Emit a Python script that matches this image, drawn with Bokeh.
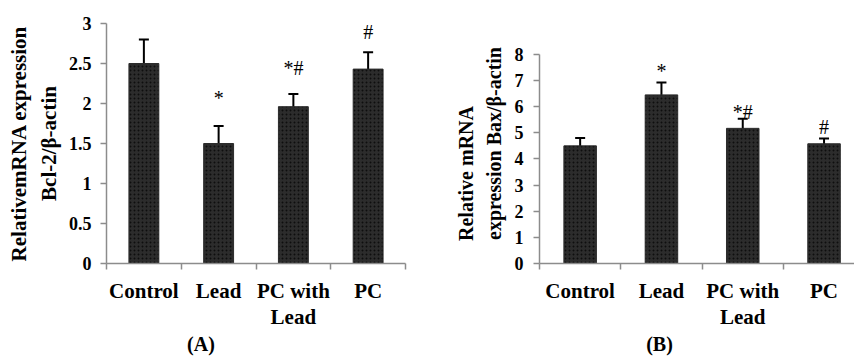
from bokeh.plotting import figure
from bokeh.models import (Range1d, FixedTicker, NumeralTickFormatter, Whisker,
                          TeeHead, ColumnDataSource)
from bokeh.layouts import row
from bokeh.embed import file_html
from bokeh.resources import INLINE
from bokeh.core.properties import value

# ---------------- data ----------------
categories = ["Control", "Lead", "PC with\nLead", "PC"]
positions = [1, 2, 3, 4]

bcl2_mean = [2.50, 1.50, 1.96, 2.43]
bcl2_err = [0.30, 0.22, 0.16, 0.21]
bcl2_marks = ["", "*", "*#", "#"]
bcl2_mark_y = [2.80, 2.07, 2.44, 2.90]
bcl2_yticks = [0, 0.5, 1, 1.5, 2, 2.5, 3]

bax_mean = [4.50, 6.45, 5.17, 4.58]
bax_err = [0.30, 0.47, 0.37, 0.20]
bax_marks = ["", "*", "*#", "#"]
bax_mark_y = [4.80, 7.36, 5.78, 5.22]
bax_yticks = [0, 1, 2, 3, 4, 5, 6, 7, 8]

FONT = "Liberation Serif"
AXIS_COLOR = "#8c8c8c"
NBSP = "\u00a0"


def panel(mean, err, marks, mark_y, yticks, y_top, y_end, x_end, width, border,
          ylabel, ylabel_size, ylabel_standoff, tick_standoff, tag):
    left, right, top, bottom = border
    p = figure(width=width, height=358, output_backend="svg", toolbar_location=None,
               x_range=Range1d(0.5, x_end), y_range=Range1d(0, y_end),
               min_border_left=left, min_border_right=right,
               min_border_top=top, min_border_bottom=bottom)
    p.outline_line_color = None
    p.grid.visible = False
    p.background_fill_color = "white"

    upper = [m + e for m, e in zip(mean, err)]
    lower = [m - e for m, e in zip(mean, err)]
    src = ColumnDataSource(dict(x=positions, top=mean, upper=upper, lower=lower,
                                marks=marks, mark_y=mark_y))
    p.vbar(x="x", top="top", width=0.4, source=src, fill_color="#2c2c2c",
           line_color="#2c2c2c", hatch_pattern="dot", hatch_color="#0e0e0e",
           hatch_scale=4, hatch_weight=1.2)
    p.add_layout(Whisker(source=src, base="x", upper="upper", lower="lower",
                         line_color="black", line_width=2,
                         upper_head=TeeHead(size=10, line_color="black", line_width=2),
                         lower_head=TeeHead(size=10, line_color="black", line_width=2)))
    p.text(x="x", y="mark_y", text="marks", source=src, text_align="center",
           text_baseline="alphabetic", text_font=value(FONT),
           text_font_size="20px", text_color="black")

    # x axis: labels at category centres, ticks at category boundaries
    xa = p.xaxis[0]
    xa.ticker = FixedTicker(ticks=positions,
                            minor_ticks=[0.5, 1.5, 2.5, 3.5, 4.5])
    xa.major_label_overrides = {pos: c for pos, c in zip(positions, categories)}
    xa.major_tick_out = 0
    xa.major_tick_in = 0
    xa.minor_tick_out = 6
    xa.minor_tick_in = 0
    xa.minor_tick_line_color = AXIS_COLOR
    xa.minor_tick_line_width = 1.5
    xa.axis_line_color = AXIS_COLOR
    xa.axis_line_width = 1.5
    xa.major_label_text_font = FONT
    xa.major_label_text_font_style = "bold"
    xa.major_label_text_font_size = "21px"
    xa.major_label_text_line_height = 1.12
    xa.major_label_text_color = "black"
    xa.major_label_standoff = 9
    xa.axis_label = tag
    xa.axis_label_text_font = FONT
    xa.axis_label_text_font_style = "bold"
    xa.axis_label_text_font_size = "20px"
    xa.axis_label_text_color = "black"
    xa.axis_label_standoff = 1

    ya = p.yaxis[0]
    ya.ticker = FixedTicker(ticks=yticks, minor_ticks=[])
    ya.formatter = NumeralTickFormatter(format="0.[0]")
    ya.bounds = (0, y_top)
    ya.major_tick_out = 6
    ya.major_tick_in = 0
    ya.major_tick_line_color = AXIS_COLOR
    ya.major_tick_line_width = 1.5
    ya.minor_tick_line_color = None
    ya.axis_line_color = AXIS_COLOR
    ya.axis_line_width = 1.5
    ya.major_label_text_font = FONT
    ya.major_label_text_font_style = "bold"
    ya.major_label_text_font_size = "18px"
    ya.major_label_text_color = "black"
    ya.major_label_standoff = tick_standoff

    ya.axis_label = "\n".join(ylabel)
    ya.axis_label_text_font = FONT
    ya.axis_label_text_font_style = "bold"
    ya.axis_label_text_font_size = ylabel_size
    ya.axis_label_text_color = "black"
    ya.axis_label_text_line_height = 1.25
    ya.axis_label_standoff = ylabel_standoff
    return p


pa = panel(bcl2_mean, bcl2_err, bcl2_marks, bcl2_mark_y, bcl2_yticks, 3, 3, 4.5, 427,
           (106, 22, 23, 94),
           ["RelativemRNA expression", "Bcl-2/\u03b2-actin"], "21px", 5, 9,
           "(A)" + NBSP * 22)

pb = panel(bax_mean, bax_err, bax_marks, bax_mark_y, bax_yticks, 8, 241 / 26.25,
           0.5 + 315 / 81.3, 427, (112, 0, 23, 94),
           ["Relative mRNA" + NBSP * 12, "expression Bax/\u03b2-actin"],
           "20px", 7, 10,
           "(B)" + NBSP * 15)

layout = row(pa, pb)
open("out.html", "w").write(file_html(layout, INLINE))
